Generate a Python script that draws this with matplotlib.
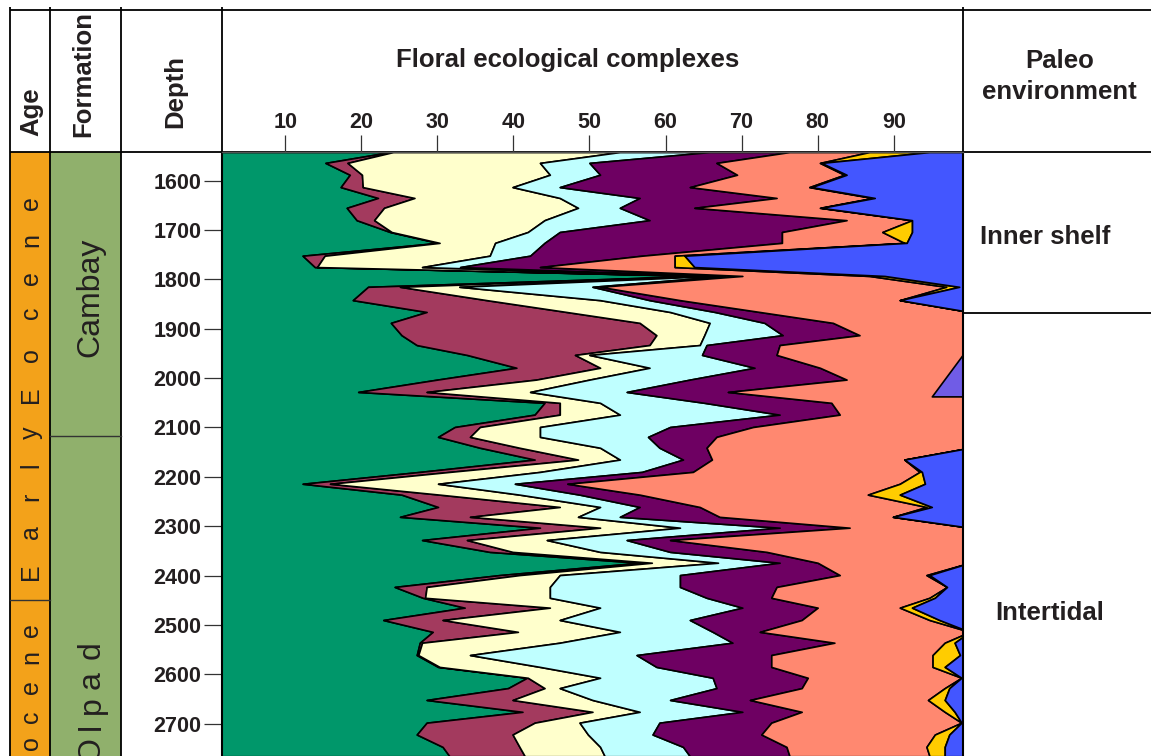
import matplotlib
matplotlib.use("Agg")
import matplotlib.pyplot as plt

plt.rcParams["font.family"] = ["Liberation Sans", "DejaVu Sans"]

# sample depths (m) and cumulative right edge (%) of each floral complex
depth = [1542, 1564, 1588, 1613, 1635, 1655, 1680, 1704, 1726, 1752, 1775, 1793,
         1815, 1842, 1866, 1888, 1913, 1933, 1953, 1979, 2003, 2028, 2050, 2074,
         2099, 2119, 2141, 2165, 2190, 2214, 2236, 2261, 2281, 2303, 2328, 2352,
         2374, 2399, 2423, 2445, 2465, 2490, 2514, 2536, 2561, 2585, 2607, 2628,
         2652, 2676, 2698, 2722, 2747, 2766]
green = [23.8, 15.3, 18.5, 17.3, 22.2, 18.1, 19.4, 23.8, 30.1, 12.3, 13.9, 64.5,
         20.9, 18.9, 28.6, 23.9, 25.3, 27.3, 33.9, 40.4, 30.0, 19.6, 44.1, 42.8,
         32.3, 30.1, 35.6, 42.8, 27.7, 12.3, 25.3, 30.1, 25.1, 43.5, 28.0, 36.9,
         56.6, 38.2, 24.4, 28.1, 33.6, 22.9, 29.4, 27.7, 27.3, 30.1, 41.8, 39.3,
         28.6, 41.2, 28.6, 27.3, 30.7, 31.6]
maroon = [24.2, 18.2, 20.1, 20.2, 27.0, 23.0, 21.7, 24.0, 30.3, 15.2, 14.2, 65.1,
          25.1, 36.5, 47.0, 56.6, 58.8, 57.9, 48.1, 51.4, 43.0, 28.6, 46.1, 46.1,
          35.6, 34.3, 40.8, 48.5, 31.6, 15.9, 30.3, 46.1, 34.3, 51.4, 33.9, 39.9,
          58.2, 40.8, 28.6, 28.4, 44.8, 30.7, 40.6, 28.0, 27.5, 30.3, 41.9, 44.1,
          39.9, 50.4, 42.8, 39.9, 40.8, 41.5]
cream = [54.0, 43.5, 44.8, 39.9, 46.1, 48.5, 44.1, 41.9, 37.6, 36.9, 28.0, 66.5,
         32.9, 51.4, 60.6, 65.8, 65.1, 64.5, 50.0, 57.9, 50.0, 42.2, 51.4, 54.0,
         43.5, 43.5, 51.4, 54.0, 43.5, 30.1, 40.8, 51.4, 48.5, 61.9, 44.4, 51.4,
         66.9, 46.1, 44.8, 44.8, 51.4, 46.1, 54.0, 46.1, 34.3, 43.5, 51.4, 46.1,
         50.4, 56.6, 48.7, 49.8, 51.4, 52.0]
cyan = [65.8, 50.0, 51.4, 46.1, 56.6, 54.0, 57.9, 46.1, 44.1, 42.2, 33.0, 67.8,
        50.4, 57.9, 66.5, 73.0, 75.4, 65.4, 64.8, 71.7, 63.2, 54.9, 65.1, 75.0,
        60.6, 57.7, 59.2, 62.3, 56.9, 40.2, 48.7, 56.6, 54.0, 75.0, 54.9, 60.6,
        75.0, 61.9, 61.9, 65.4, 70.1, 63.2, 66.2, 68.8, 56.2, 58.8, 66.2, 66.7,
        60.6, 70.1, 59.2, 58.3, 62.3, 63.2]
purple = [76.3, 66.7, 69.4, 63.2, 74.6, 63.8, 83.8, 75.3, 75.3, 56.9, 43.5, 70.1,
          51.4, 61.9, 72.4, 82.0, 85.5, 75.0, 74.6, 80.3, 83.8, 68.2, 81.8, 82.9,
          71.5, 66.7, 65.4, 66.1, 63.6, 47.1, 56.6, 64.5, 67.1, 84.2, 60.6, 73.3,
          80.0, 82.9, 74.6, 73.9, 80.0, 77.9, 72.4, 82.2, 73.9, 73.9, 78.7, 77.9,
          71.1, 77.9, 73.9, 72.6, 75.9, 76.3]
salmon = [86.8, 80.3, 83.5, 78.9, 87.2, 80.3, 92.4, 88.5, 91.4, 61.2, 61.2, 86.8,
          96.9, 90.8, 100, 100, 100, 100, 100, 100, 100, 100, 100, 100,
          100, 100, 100, 91.4, 93.4, 90.8, 86.6, 94.3, 89.9, 100, 100, 100,
          100, 94.3, 97.0, 94.7, 90.8, 94.7, 100, 96.7, 95.1, 95.1, 98.9, 96.7,
          94.5, 96.7, 98.9, 95.4, 94.3, 94.7]
yellow = [94.7, 80.5, 83.8, 79.2, 87.5, 80.5, 92.4, 92.4, 91.7, 62.5, 63.8, 88.8,
          98.6, 90.8, 100, 100, 100, 100, 100, 100, 100, 100, 100, 100,
          100, 100, 100, 91.4, 93.7, 94.1, 90.8, 95.0, 89.9, 100, 100, 100,
          100, 94.7, 97.0, 95.4, 92.4, 96.0, 100, 98.0, 98.7, 96.7, 98.9, 97.3,
          96.7, 98.0, 98.9, 97.3, 96.7, 96.7]

# isolated complex near 2000 m
lav_depth = [1933, 2037, 2037]
lav_width = [0, 5.0, 0]

colors = ["#00976A", "#A33A5E", "#FFFFCC", "#BFFFFF", "#6E0062",
          "#FF8870", "#FFCC00", "#4356FF"]

depth_ticks = list(range(1600, 2800, 100))
pct_ticks = list(range(10, 100, 10))

early_eocene = list("EarlyEocene")
early_eocene_y = [572, 532, 497, 465, 433, 395, 355, 313, 278, 240, 203]
paleocene_tail = list("ocene")
paleocene_y = [743, 717, 687, 657, 630]
olpad = list("Olpad")
olpad_y = [750, 726, 705, 680, 650]

TXT = "#231F20"

fig = plt.figure(figsize=(11.51, 7.56), dpi=100)
frame = fig.add_axes([0, 0, 1, 1])
frame.set_xlim(0, 1151)
frame.set_ylim(756, 0)
frame.axis("off")

# coloured stratigraphic columns
frame.fill_between([10, 50], 152, 756, color="#F3A21A", lw=0)
frame.fill_between([50, 121], 152, 756, color="#90B06C", lw=0)

line_kw = dict(color="black", lw=1.3, solid_capstyle="butt")
frame.plot([10, 1151], [10, 10], **line_kw)
frame.plot([10, 1151], [152, 152], **line_kw)
for x in [10, 50, 121, 222, 963]:
    frame.plot([x, x], [7, 756], **line_kw)
frame.plot([963, 1151], [313, 313], **line_kw)
frame.plot([10, 50], [600, 600], color="#333333", lw=1.0)
frame.plot([50, 121], [436, 436], color="#333333", lw=1.0)

head = dict(fontsize=18.5, fontweight="bold", color=TXT)
frame.text(31, 112, "Age", rotation=90, ha="center", va="center", **head)
frame.text(83, 137, "Formation", rotation=90, ha="center", va="bottom", **head)
frame.text(175, 92, "Depth", rotation=90, ha="center", va="center", **head)
frame.text(568, 60, "Floral ecological complexes", ha="center", va="center", **head)
frame.text(1060, 61, "Paleo", ha="center", va="center", **head)
frame.text(1059, 92, "environment", ha="center", va="center", **head)
frame.text(1045, 237, "Inner shelf", ha="center", va="center", **head)
frame.text(1050, 613, "Intertidal", ha="center", va="center", **head)

for ch, y in zip(early_eocene, early_eocene_y):
    frame.text(31, y, ch, rotation=90, ha="center", va="center", fontsize=18, color=TXT)
for ch, y in zip(paleocene_tail, paleocene_y):
    frame.text(31, y, ch, rotation=90, ha="center", va="center", fontsize=18, color=TXT)
frame.text(90, 297, "Cambay", rotation=90, ha="center", va="center", fontsize=23, color=TXT)
for ch, y in zip(olpad, olpad_y):
    frame.text(92, y, ch, rotation=90, ha="center", va="center", fontsize=23, color=TXT)

# main stacked area panel
ax = fig.add_axes([222 / 1151, 0, 741 / 1151, 604 / 756])
n = len(depth)
left = [0] * n
for right, col in zip([green, maroon, cream, cyan, purple, salmon, yellow, [100] * n], colors):
    ax.fill_betweenx(depth, left, right, facecolor=col, edgecolor="black", linewidth=1.2)
    left = right
ax.fill_betweenx(lav_depth, [100 - w for w in lav_width], 100,
                 facecolor="#705CE6", edgecolor="black", linewidth=1.2)

ax.set_xlim(1.7, 99.1)
ax.set_ylim(2765.5, 1541.9)
ax.xaxis.tick_top()
ax.set_xticks(pct_ticks)
ax.set_xticklabels([str(t) for t in pct_ticks], fontweight="bold", color=TXT)
ax.set_yticks(depth_ticks)
ax.set_yticklabels([str(t) for t in depth_ticks], fontweight="bold", color=TXT)
ax.tick_params(axis="x", length=12, width=0.9, pad=2, labelsize=15.5, colors="#333333")
ax.tick_params(axis="y", length=13, width=0.9, pad=2, labelsize=15.5, colors="#333333")
for lbl in ax.get_xticklabels() + ax.get_yticklabels():
    lbl.set_color(TXT)
ax.spines["bottom"].set_visible(False)
ax.spines["left"].set_linewidth(1.5)
ax.spines["right"].set_linewidth(1.5)
ax.spines["top"].set_linewidth(1.0)
ax.spines["top"].set_color("#555555")

fig.savefig("out.png", dpi=100)
